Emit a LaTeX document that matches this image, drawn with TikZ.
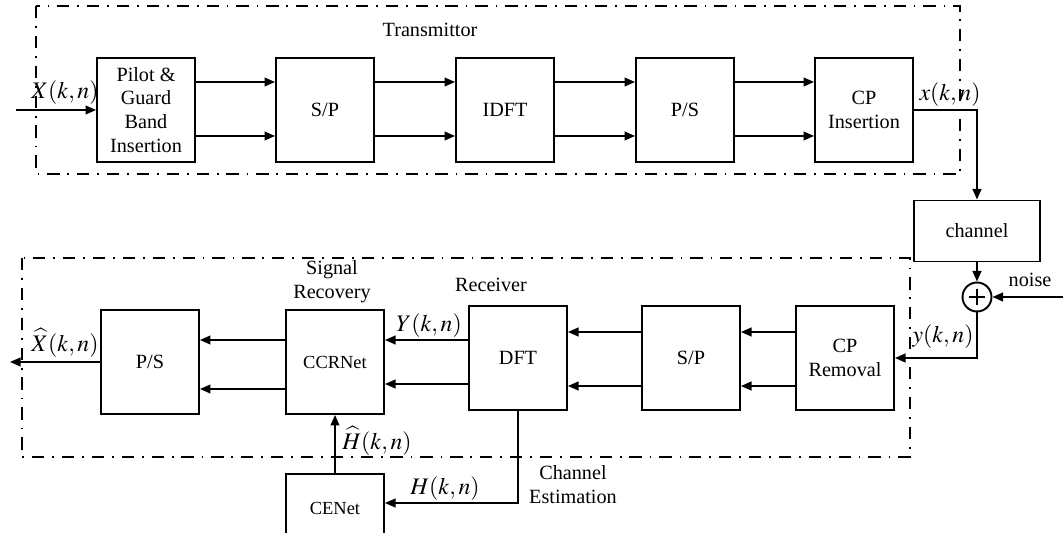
\documentclass[tikz,border=0pt]{standalone}
\usepackage{mathptmx}
\usepackage{fontspec}
\setmainfont{Liberation Serif}
\usetikzlibrary{arrows.meta,calc}
\tikzset{
  blk/.style={draw, line width=1.1pt, minimum width=1.96cm, minimum height=2.08cm,
              align=center, inner sep=1pt},
  sig/.style={-{Triangle[length=6pt,width=5pt]}, line width=0.9pt},
  wire/.style={line width=0.9pt},
  grp/.style={line width=0.9pt, dash pattern=on 7pt off 4.5pt on 1pt off 4.5pt},
  lbl/.style={font=\fontsize{13.5}{16}\selectfont, inner sep=0pt},
}

\begin{document}
\begin{tikzpicture}[x=0.02cm,y=-0.02cm,font=\fontsize{11.5}{13.6}\selectfont]
  \useasboundingbox (0,0) rectangle (1063,533);
  % transmitter
  \draw[grp] (36,6) rectangle (960,174);
  \node at (430,30) {Transmittor};
  \node[blk] (pil) at (146,110) {Pilot \&\\Guard\\Band\\Insertion};
  \node[blk] (tsp) at (325,110) {S/P};
  \node[blk] (idft) at (505,110) {IDFT};
  \node[blk] (tps) at (685,110) {P/S};
  \node[blk] (cpi) at (864,110) {CP\\Insertion};
  \coordinate (xin) at (16,110);
  \draw[sig] (xin) -- (pil.west);
  \node[lbl] at (65,93) {$X(k,n)$};
  \foreach \a/\b in {pil/tsp,tsp/idft,idft/tps,tps/cpi}{
    \draw[sig] ($(\a.east)+(0,-28)$) -- ($(\b.west)+(0,-28)$);
    \draw[sig] ($(\a.east)+(0,26)$) -- ($(\b.west)+(0,26)$);
  }
  % channel and noise
  \node[blk, minimum height=1.22cm, minimum width=2.52cm] (chan) at (977,231) {channel};
  \node[draw, circle, line width=1.1pt, minimum size=0.58cm, inner sep=0pt] (add) at (977,297) {};
  \draw[line width=0.8pt] ($(add.center)+(-8,0)$) -- ($(add.center)+(8,0)$)
                          ($(add.center)+(0,-8)$) -- ($(add.center)+(0,8)$);
  \draw[sig] (cpi.east) -| (chan.north);
  \node[lbl] at (950,95) {$x(k,n)$};
  \draw[sig] (chan.south) -- (add.north);
  \coordinate (nz) at (1063,297);
  \draw[sig] (nz) -- (add.east);
  \node at (1030,280) {noise};
  % receiver
  \draw[grp] (22,258) rectangle (910,457);
  \node at (491,285) {Receiver};
  \node[align=center] at (332,282) {Signal\\Recovery};
  \node[blk] (ps2) at (150,362) {P/S};
  \node[blk, font=\fontsize{10.5}{12}\selectfont] (ccr) at (335,362) {CCRNet};
  \node[blk] (dft) at (518,358) {DFT};
  \node[blk] (rsp) at (691,358) {S/P};
  \node[blk] (cpr) at (845,358) {CP\\Removal};
  \draw[sig] (add.south) |- (cpr.east);
  \node[lbl] at (943,337) {$y(k,n)$};
  \foreach \a/\b in {cpr/rsp,rsp/dft}{
    \draw[sig] ($(\a.west)+(0,-26)$) -- ($(\b.east)+(0,-26)$);
    \draw[sig] ($(\a.west)+(0,28)$) -- ($(\b.east)+(0,28)$);
  }
  \draw[sig] ($(dft.west)+(0,-18)$) -- ($(ccr.east)+(0,-22)$);
  \draw[sig] ($(dft.west)+(0,26)$) -- ($(ccr.east)+(0,22)$);
  \node[lbl] at (429,326) {$Y(k,n)$};
  \draw[sig] ($(ccr.west)+(0,-22)$) -- ($(ps2.east)+(0,-22)$);
  \draw[sig] ($(ccr.west)+(0,27)$) -- ($(ps2.east)+(0,27)$);
  \coordinate (xout) at (10,362);
  \draw[sig] (ps2.west) -- (xout);
  \node[lbl] at (65,343) {$\widehat{X}(k,n)$};
  % channel estimation
  \node[blk, font=\fontsize{10.5}{12}\selectfont, minimum height=1.4cm, anchor=north] (cen) at (335,473) {CENet};
  \draw[sig] (cen.north) -- (ccr.south);
  \node[lbl] at (377,441) {$\widehat{H}(k,n)$};
  \draw[sig] (dft.south) |- ($(cen.north east)+(0,30)$);
  \node[lbl] at (445,489) {$H(k,n)$};
  \node[align=center] at (573,485) {Channel\\Estimation};
\end{tikzpicture}
\end{document}
